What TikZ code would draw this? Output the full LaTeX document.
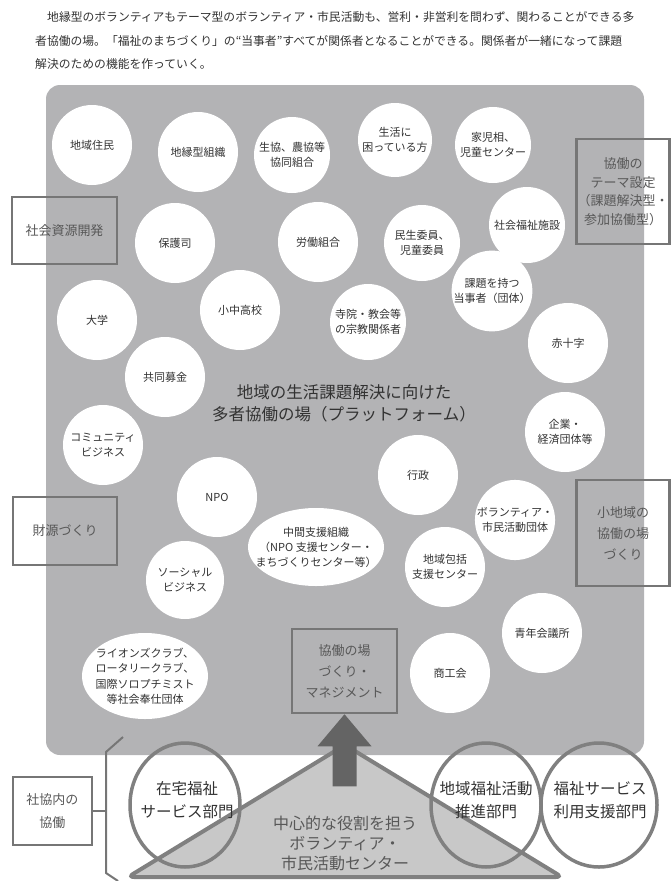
\documentclass[tikz,border=0pt]{standalone}
\usepackage{fontspec}
\setmainfont{Noto Sans CJK JP}
\usepackage{xcolor}
\usepackage{tikz}
\usetikzlibrary{calc}

\definecolor{platformGray}{RGB}{179,179,181}
\definecolor{frameGray}{RGB}{118,118,118}
\definecolor{ringGray}{RGB}{128,128,128}
\definecolor{arrowGray}{RGB}{100,100,100}
\definecolor{baseGray}{RGB}{200,200,200}
\definecolor{inkGray}{RGB}{50,50,50}
\definecolor{softInk}{RGB}{88,88,88}

\begin{document}
\begin{tikzpicture}[x=1pt, y=-1pt,
		plain/.style={align=center, inner sep=0pt, text=inkGray, font=\fontsize{11}{15}\selectfont},
		actor/.style={plain, circle, fill=white, minimum size=#1},
		actor/.default=80pt,
		sidebox/.style={draw=frameGray, line width=2.5pt, inner sep=0pt, align=center, text=softInk, font=\fontsize{13}{21}\selectfont},
		ring/.style={draw=ringGray, line width=3.5pt},
		lead/.style={align=center, inner sep=0pt, text=inkGray, font=\fontsize{15.5}{23}\selectfont}]

			\useasboundingbox (0,0) rectangle (671,881);

			\newcommand{\placeMember}[4]
			{
				\node [actor=#3] (#1) at (#2) {#4}
			}

			\begin{scope}[every node/.style={anchor=west, inner sep=0pt, text=inkGray, font=\fontsize{11.8}{14}\selectfont}]
				\node (introA) at (47,17) {地縁型のボランティアもテーマ型のボランティア・市民活動も、営利・非営利を問わず、関わることができる多};
				\node (introB) at (35,41) {者協働の場。「福祉のまちづくり」の“当事者”すべてが関係者となることができる。関係者が一緒になって課題};
				\node (introC) at (35,64) {解決のための機能を作っていく。};
			\end{scope}

			\fill [platformGray, rounded corners=14pt] (46,85) rectangle (644,755);

			\begin{scope}
				\placeMember{jumin}{92,145}{80pt}{地域住民};
				\placeMember{chien}{198,152}{80pt}{地縁型組織};
				\placeMember{seikyo}{292,155}{76pt}{生協、農協等\\協同組合};
				\placeMember{konkyu}{395,140}{74pt}{生活に\\困っている方};
				\placeMember{jiso}{493,145}{76pt}{家児相、\\児童センター};
				\placeMember{shisetsu}{527,225}{76pt}{社会福祉施設};
				\placeMember{hogoshi}{175,243}{80pt}{保護司};
				\placeMember{rodo}{318,242}{80pt}{労働組合};
				\placeMember{minsei}{422,243}{76pt}{民生委員、\\児童委員};
				\placeMember{tojisha}{492,291}{74pt}{課題を持つ\\当事者（団体）};
				\placeMember{daigaku}{97,320}{80pt}{大学};
				\placeMember{gakko}{240,310}{80pt}{小中高校};
				\placeMember{jiin}{368,322}{76pt}{寺院・教会等\\の宗教関係者};
				\placeMember{sekijuji}{568,343}{80pt}{赤十字};
				\placeMember{bokin}{165,377}{80pt}{共同募金};
				\placeMember{community}{103,445}{80pt}{コミュニティ\\ビジネス};
				\placeMember{kigyo}{565,432}{80pt}{企業・\\経済団体等};
				\placeMember{gyosei}{418,475}{80pt}{行政};
				\placeMember{npo}{217,497}{80pt}{NPO};
				\placeMember{dantai}{515,520}{80pt}{ボランティア・\\市民活動団体};
				\placeMember{hokatsu}{445,567}{80pt}{地域包括\\支援センター};
				\placeMember{social}{185,580}{78pt}{ソーシャル\\ビジネス};
				\placeMember{seinen}{542,633}{80pt}{青年会議所};
				\placeMember{shokokai}{450,673}{80pt}{商工会};
			\end{scope}

			\begin{scope}
				\fill [white] (316,547) ellipse [x radius=68, y radius=39];
				\node [plain] (chukan) at (316,547) {中間支援組織\\（NPO 支援センター・\\まちづくりセンター等）};
				\fill [white] (145,676) ellipse [x radius=63, y radius=43];
				\node [plain, font=\fontsize{11}{15.5}\selectfont] (lions) at (145,676) {ライオンズクラブ、\\ロータリークラブ、\\国際ソロプチミスト\\等社会奉仕団体};
			\end{scope}

			\node [plain, font=\fontsize{16.5}{22}\selectfont] (forum) at (344,403) {地域の生活課題解決に向けた\\多者協働の場（プラットフォーム）};

			\begin{scope}
				\node [sidebox, minimum width=105pt, minimum height=67pt] (kaihatsu) at (64.5,230.5) {社会資源開発};
				\node [sidebox, minimum width=104pt, minimum height=68pt] (zaigen) at (65,531) {財源づくり};
				\node [sidebox, minimum width=93pt, minimum height=105pt, font=\fontsize{13}{18.5}\selectfont] (theme) at (623,191.5) {協働の\\テーマ設定\\（課題解決型・\\参加協働型）};
				\node [sidebox, minimum width=93pt, minimum height=106pt] (shochiiki) at (623,533) {小地域の\\協働の場\\づくり};
				\node [sidebox, minimum width=105pt, minimum height=84pt] (manage) at (344.5,671) {協働の場\\づくり・\\マネジメント};
			\end{scope}

			\filldraw [fill=baseGray, draw=ringGray, line width=4pt, rounded corners=6pt] (345,745) -- (562,877) -- (128,877) -- cycle;
			\node [lead, font=\fontsize{16}{20}\selectfont, text=softInk] (vcenter) at (345,843) {中心的な役割を担う\\ボランティア・\\市民活動センター};

			\begin{scope}
				\node [lead] (zaitaku) at (187,800) {在宅福祉\\サービス部門};
				\node [lead] (suishin) at (486,800) {地域福祉活動\\推進部門};
				\node [lead] (riyo) at (600,800) {福祉サービス\\利用支援部門};
				\draw [ring] ($(zaitaku)+(-2,5)$) ellipse [x radius=55, y radius=62];
				\draw [ring] ($(suishin)+(0,5)$) ellipse [x radius=55, y radius=62];
				\draw [ring] ($(riyo)+(-1,5)$) ellipse [x radius=58, y radius=62];
			\end{scope}

			\fill [arrowGray] (manage.south) -- ++(27,32) -- ++(-15,0) -- ++(0,40) -- ++(-24,0) -- ++(0,-40) -- ++(-15,0) -- cycle;

			\begin{scope}[frameGray, line width=2pt]
				\node [sidebox, line width=2pt, minimum width=79pt, minimum height=68pt, font=\fontsize{13}{23}\selectfont] (shakyo) at (52.5,811) {社協内の\\協働};
				\coordinate (bracketMid) at (106,811);
				\draw (shakyo.east) -- (bracketMid);
				\draw (123,737) -- (106,752) -- (106,873) -- (118,881);
			\end{scope}
		\end{tikzpicture}
\end{document}
